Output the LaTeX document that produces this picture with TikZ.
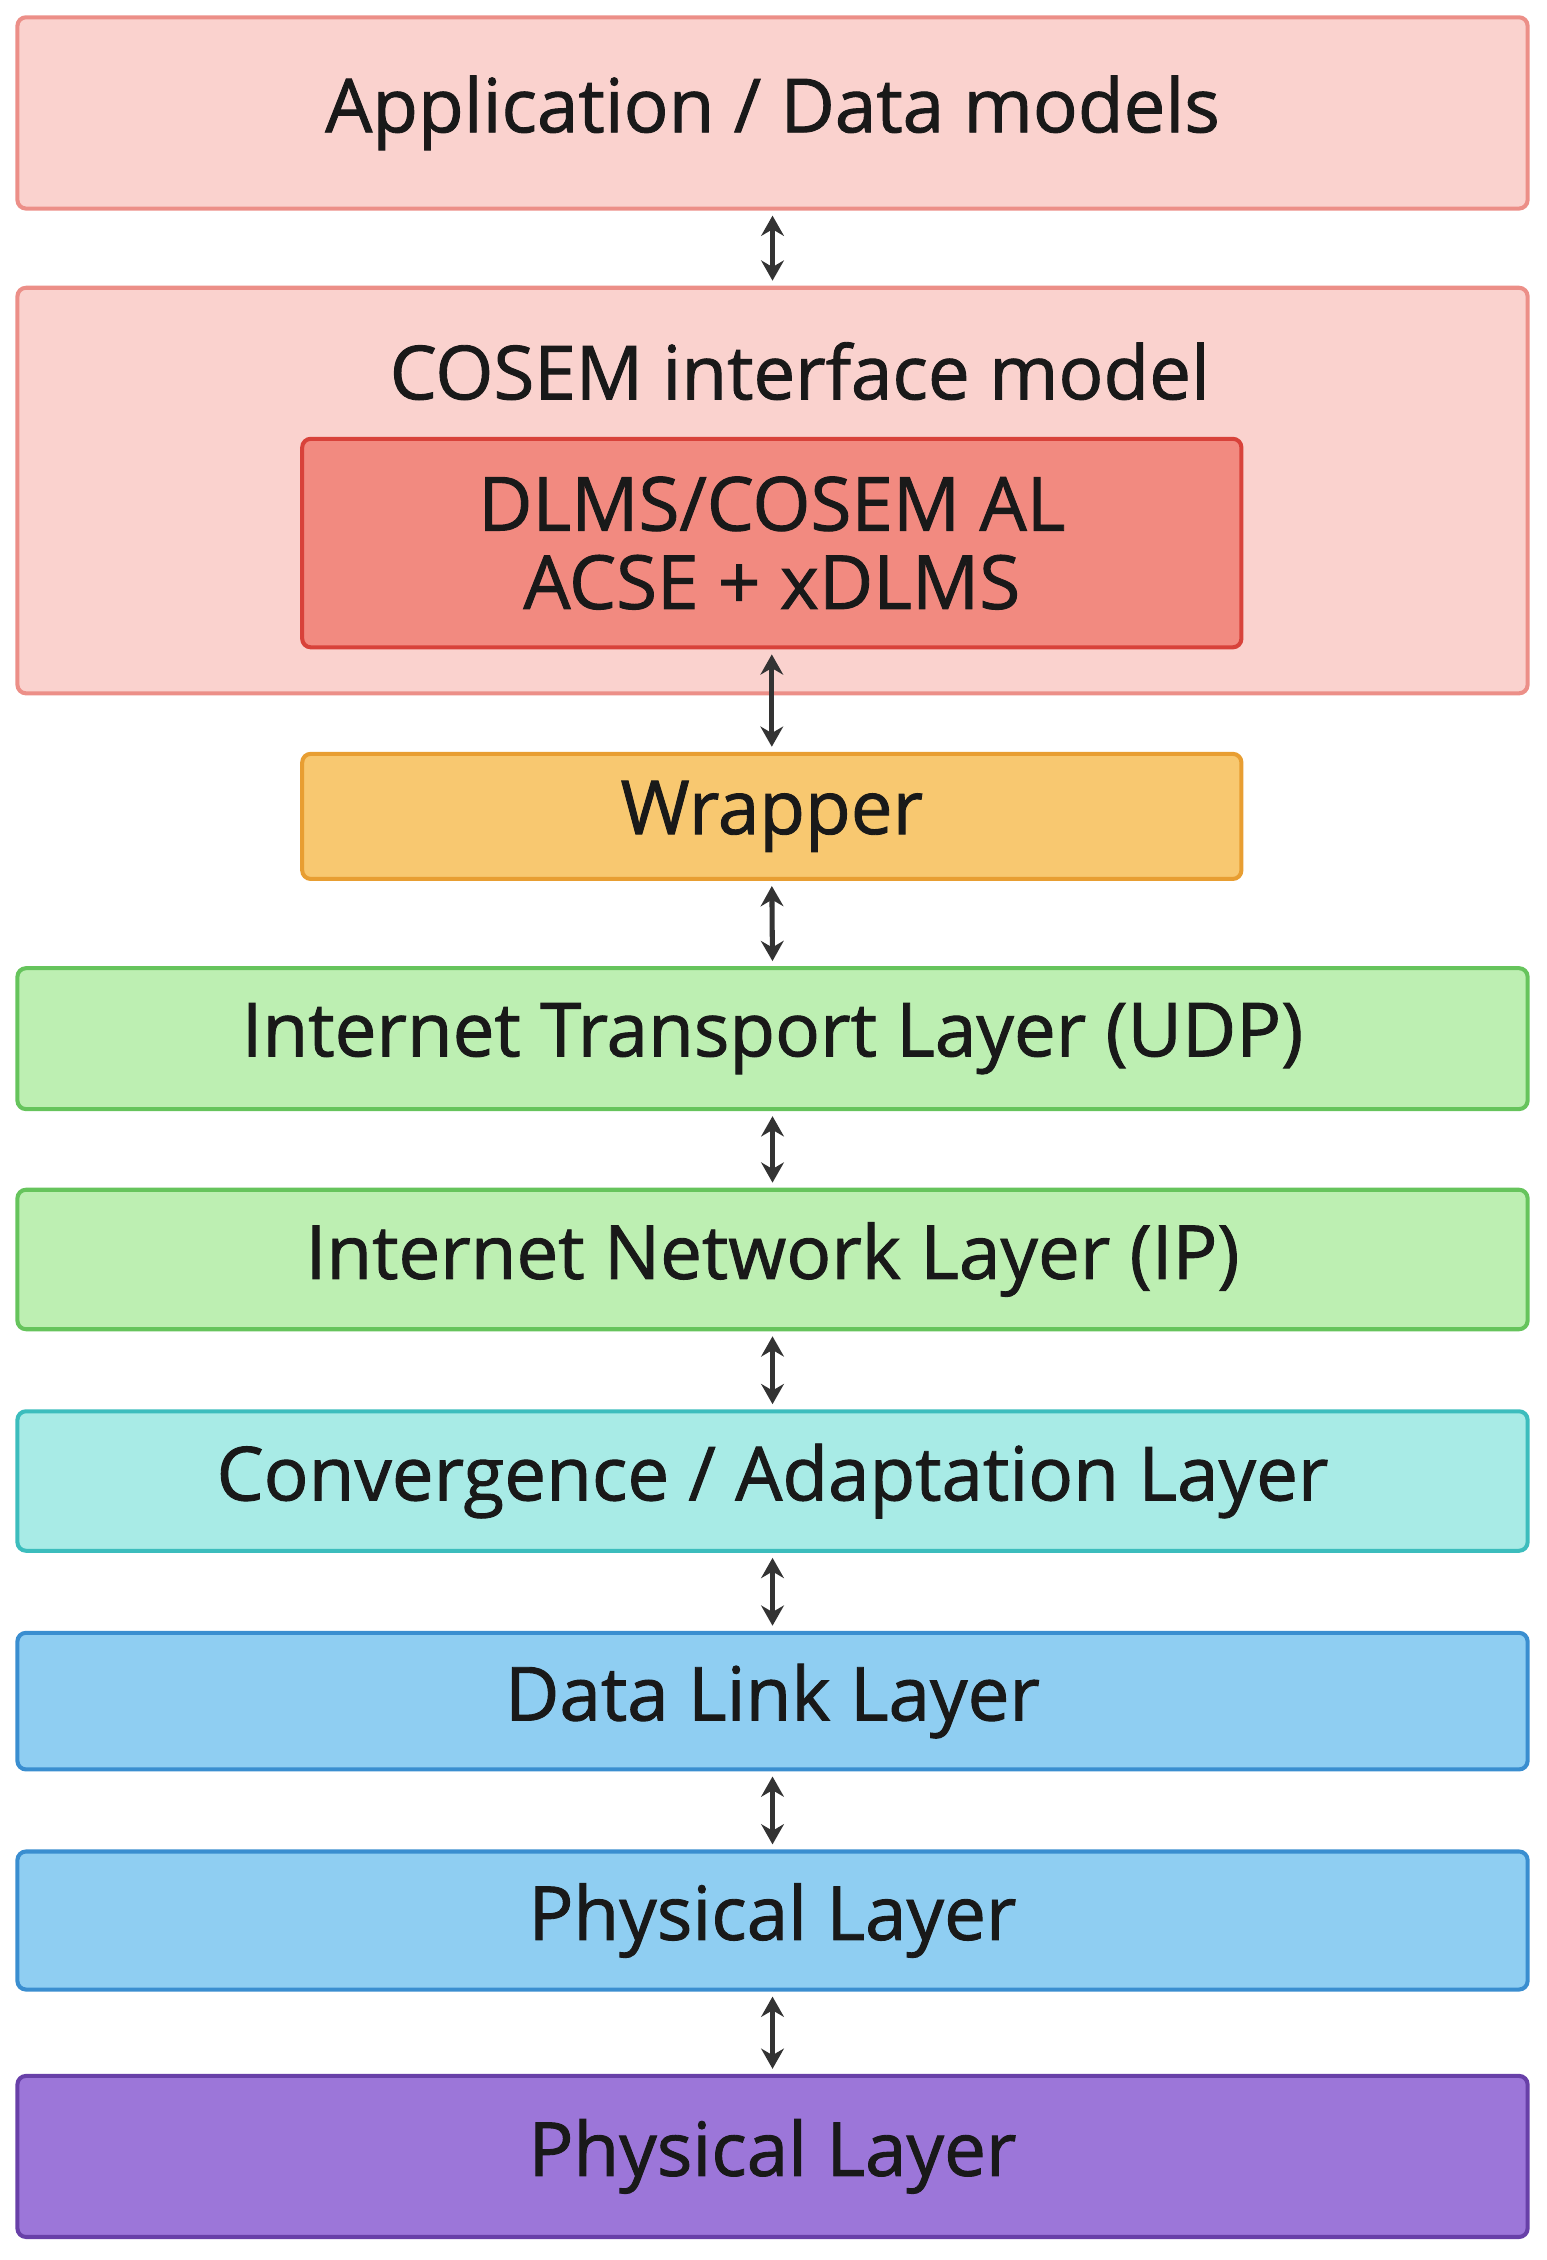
\documentclass[tikz,border=0pt]{standalone}
\usepackage{fontspec}
\setmainfont{Open Sans}[FakeBold=1.2]
\usetikzlibrary{arrows.meta}
\definecolor{appfill}{HTML}{FAD2CE}\definecolor{appdraw}{HTML}{EC8F88}
\definecolor{alfill}{HTML}{F28A80}\definecolor{aldraw}{HTML}{D8423A}
\definecolor{wrfill}{HTML}{F8C870}\definecolor{wrdraw}{HTML}{E89E32}
\definecolor{inetfill}{HTML}{BDEFB2}\definecolor{inetdraw}{HTML}{66C45C}
\definecolor{convfill}{HTML}{A8EBE6}\definecolor{convdraw}{HTML}{3CBDBD}
\definecolor{linkfill}{HTML}{8FCEF2}\definecolor{linkdraw}{HTML}{3A8ED0}
\definecolor{phyfill}{HTML}{9C76D9}\definecolor{phydraw}{HTML}{6840A8}
\begin{document}
\begin{tikzpicture}[x=0.02cm,y=-0.02cm,
  layer/.style={draw, line width=1.6pt, rounded corners=0.12cm, inner sep=0pt,
    font=\fontsize{29.5}{35}\selectfont, text=black!90, align=center},
  wide/.style={layer, minimum width=21cm},
  narrow/.style={layer, minimum width=13.06cm},
  link/.style={{Stealth[length=8pt,width=9pt]}-{Stealth[length=8pt,width=9pt]},
    line width=2pt, black!80, shorten <=2pt, shorten >=2pt}]

 \useasboundingbox (0,0) rectangle (1075,1571);

 \node (app)   [wide, fill=appfill, draw=appdraw, minimum height=2.66cm] at (537,78.5) {Application / Data models};
 \node (cosem) [wide, fill=appfill, draw=appdraw, minimum height=5.64cm] at (537,341) {};
 \node (cosemtitle) [font=\fontsize{29.5}{35}\selectfont, text=black!90] at (556,258) {COSEM interface model};
 \node (al)    [narrow, fill=alfill, draw=aldraw, minimum height=2.9cm] at (536.5,377.5) {DLMS/COSEM AL\\[-4pt]ACSE + xDLMS};
 \node (wrap)  [narrow, fill=wrfill, draw=wrdraw, minimum height=1.74cm] at (536.5,567.5) {Wrapper};
 \node (udp)   [wide, fill=inetfill, draw=inetdraw, minimum height=1.96cm] at (537,722) {Internet Transport Layer (UDP)};
 \node (ip)    [wide, fill=inetfill, draw=inetdraw, minimum height=1.94cm] at (537,875.5) {Internet Network Layer (IP)};
 \node (conv)  [wide, fill=convfill, draw=convdraw, minimum height=1.94cm] at (537,1029.5) {Convergence / Adaptation Layer};
 \node (dll)   [wide, fill=linkfill, draw=linkdraw, minimum height=1.9cm] at (537,1182.5) {Data Link Layer};
 \node (phy)   [wide, fill=linkfill, draw=linkdraw, minimum height=1.92cm] at (537,1335) {Physical Layer};
 \node (medium)[wide, fill=phyfill, draw=phydraw, minimum height=2.24cm] at (537,1499) {Physical Layer};

 \draw [link] (app.south) -- (cosem.north);
 \draw [link] (al.south) -- (wrap.north);
 \draw [link] (wrap.south) -- (udp.north);
 \draw [link] (udp.south) -- (ip.north);
 \draw [link] (ip.south) -- (conv.north);
 \draw [link] (conv.south) -- (dll.north);
 \draw [link] (dll.south) -- (phy.north);
 \draw [link] (phy.south) -- (medium.north);

\end{tikzpicture}
\end{document}
